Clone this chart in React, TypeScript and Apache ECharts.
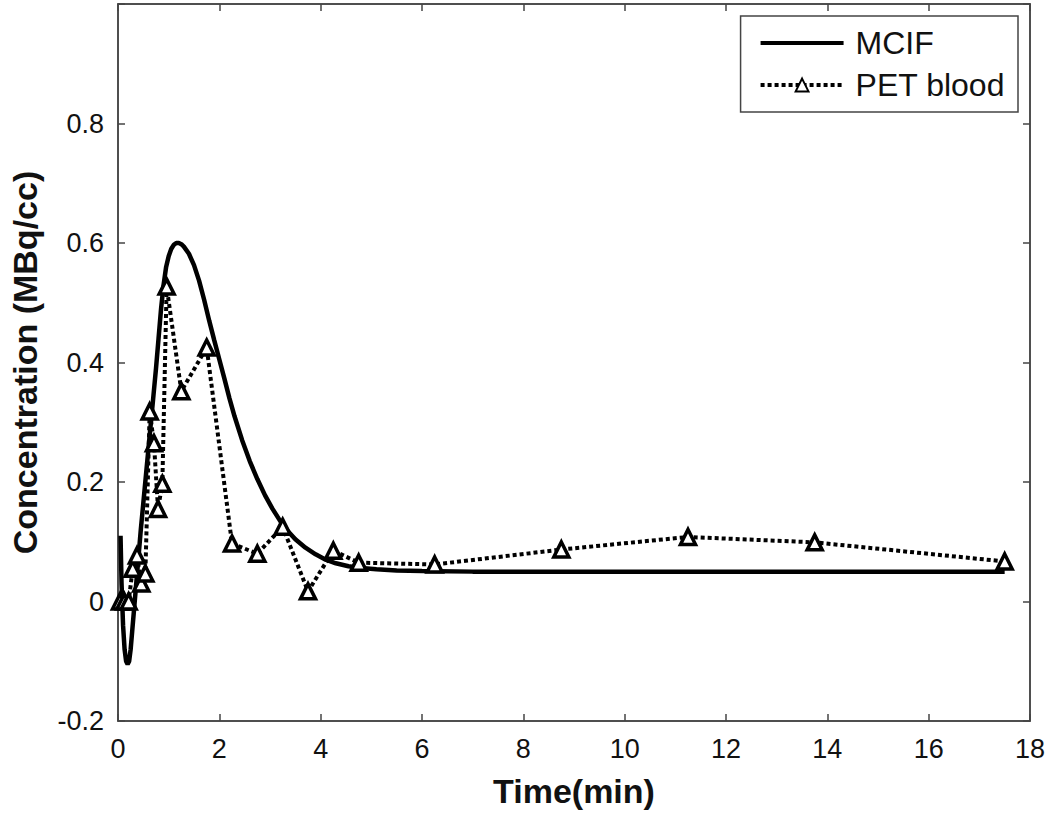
import React, { useEffect, useRef } from "react";
import * as echarts from "echarts";

const xTicks = [0, 2, 4, 6, 8, 10, 12, 14, 16, 18];
const mcifTime = [0.05, 0.07, 0.1, 0.13, 0.16, 0.19, 0.22, 0.25, 0.28, 0.31, 0.35, 0.4, 0.45, 0.5, 0.55, 0.6, 0.65, 0.7, 0.75, 0.8, 0.85, 0.9, 0.95, 1.0, 1.05, 1.1, 1.15, 1.2, 1.25, 1.3, 1.4, 1.5, 1.6, 1.7, 1.8, 1.9, 2.0, 2.1, 2.2, 2.3, 2.45, 2.6, 2.75, 2.9, 3.05, 3.2, 3.35, 3.5, 3.7, 3.9, 4.1, 4.3, 4.55, 4.8, 5.1, 5.5, 6.0, 7, 10, 14, 17.5];
const mcifConc = [0.11, 0.03, -0.04, -0.08, -0.1, -0.105, -0.1, -0.08, -0.05, -0.02, 0.02, 0.07, 0.12, 0.165, 0.21, 0.255, 0.3, 0.345, 0.39, 0.44, 0.49, 0.53, 0.56, 0.578, 0.59, 0.597, 0.6, 0.6, 0.598, 0.594, 0.582, 0.563, 0.537, 0.505, 0.47, 0.437, 0.405, 0.373, 0.34, 0.31, 0.27, 0.235, 0.205, 0.178, 0.155, 0.135, 0.118, 0.104, 0.09, 0.079, 0.07, 0.064, 0.059, 0.056, 0.054, 0.052, 0.051, 0.05, 0.05, 0.05, 0.05];
const petTime = [0.04, 0.125, 0.21, 0.29, 0.375, 0.46, 0.54, 0.625, 0.71, 0.79, 0.875, 0.96, 1.25, 1.75, 2.25, 2.75, 3.25, 3.75, 4.25, 4.75, 6.25, 8.75, 11.25, 13.75, 17.5];
const petConc = [0, 0, 0.0, 0.055, 0.077, 0.03, 0.047, 0.318, 0.265, 0.155, 0.197, 0.527, 0.352, 0.425, 0.097, 0.08, 0.125, 0.017, 0.085, 0.065, 0.062, 0.087, 0.108, 0.099, 0.067];

const FONT = "'Liberation Sans', Arial, sans-serif";

export default function App() {
  const ref = useRef<HTMLDivElement>(null);
  useEffect(() => {
    if (!ref.current) return;
    const chart = echarts.init(ref.current, undefined, { renderer: "svg" });
    const axisLine = { show: true, onZero: false, lineStyle: { color: "#444", width: 1.5 } };
    const tick = { show: true, inside: true, length: 7, lineStyle: { color: "#444", width: 1.5 } };
    chart.setOption({
      animation: false,
      backgroundColor: "#fff",
      grid: { left: 115, right: 20, top: 4, bottom: 90, show: true, borderColor: "#444", borderWidth: 1.5 },
      legend: {
        right: 32,
        top: 16,
        orient: "vertical",
        itemWidth: 83,
        itemHeight: 16,
        itemGap: 10,
        padding: [11, 13, 11, 18],
        borderColor: "#444",
        borderWidth: 1.5,
        backgroundColor: "#fff",
        lineStyle: { width: 4 },
        textStyle: { fontFamily: FONT, fontSize: 32, color: "#111", padding: [0, 0, 0, 7] },
        data: [{ name: "MCIF", itemStyle: { opacity: 0 } }, "PET blood"],
      },
      xAxis: [
        {
          type: "value",
          min: 0,
          max: 18,
          interval: 2,
          position: "bottom",
          axisLine,
          axisTick: tick,
          splitLine: { show: false },
          axisLabel: { fontFamily: FONT, fontSize: 27, color: "#111", margin: 14, formatter: (v: number) => String(Math.round(v)) },
          name: "Time(min)",
          nameLocation: "middle",
          nameGap: 53,
          nameTextStyle: { fontFamily: FONT, fontSize: 34, fontWeight: "bold", color: "#111" },
        },
        {
          type: "value",
          min: 0,
          max: 18,
          interval: 2,
          position: "top",
          axisLine,
          axisTick: tick,
          splitLine: { show: false },
          axisLabel: { show: false },
        },
      ],
      yAxis: [
        {
          type: "value",
          min: -0.2,
          max: 1.0,
          interval: 0.2,
          position: "left",
          axisLine,
          axisTick: tick,
          splitLine: { show: false },
          axisLabel: {
            fontFamily: FONT,
            fontSize: 27,
            color: "#111",
            margin: 14,
            formatter: (v: number) => {
              const r = Math.round(v * 10) / 10;
              if (r >= 0.99) return "";
              if (Math.abs(r) < 1e-9) return "0";
              return r.toFixed(1);
            },
          },
          name: "Concentration (MBq/cc)",
          nameLocation: "middle",
          nameGap: 76,
          nameTextStyle: { fontFamily: FONT, fontSize: 34, fontWeight: "bold", color: "#111" },
        },
        {
          type: "value",
          min: -0.2,
          max: 1.0,
          interval: 0.2,
          position: "right",
          axisLine,
          axisTick: tick,
          splitLine: { show: false },
          axisLabel: { show: false },
        },
      ],
      series: [
        {
          name: "MCIF",
          type: "line",
          data: mcifTime.map((t, i) => [t, mcifConc[i]]),
          smooth: false,
          showSymbol: false,
          symbol: "none",
          lineStyle: { color: "#000", width: 4.5 },
          itemStyle: { color: "#000" },
          z: 3,
        },
        {
          name: "PET blood",
          type: "line",
          data: petTime.map((t, i) => [t, petConc[i]]),
          symbol: "triangle",
          symbolSize: 15,
          showSymbol: true,
          lineStyle: { color: "#000", width: 4, type: [4, 3] },
          itemStyle: { color: "#fff", borderColor: "#000", borderWidth: 3.5 },
          z: 4,
        },
      ],
    });
    return () => chart.dispose();
  }, []);
  return <div ref={ref} style={{ position: "absolute", left: 0, top: 0, width: 1050, height: 813 }} />;
}
